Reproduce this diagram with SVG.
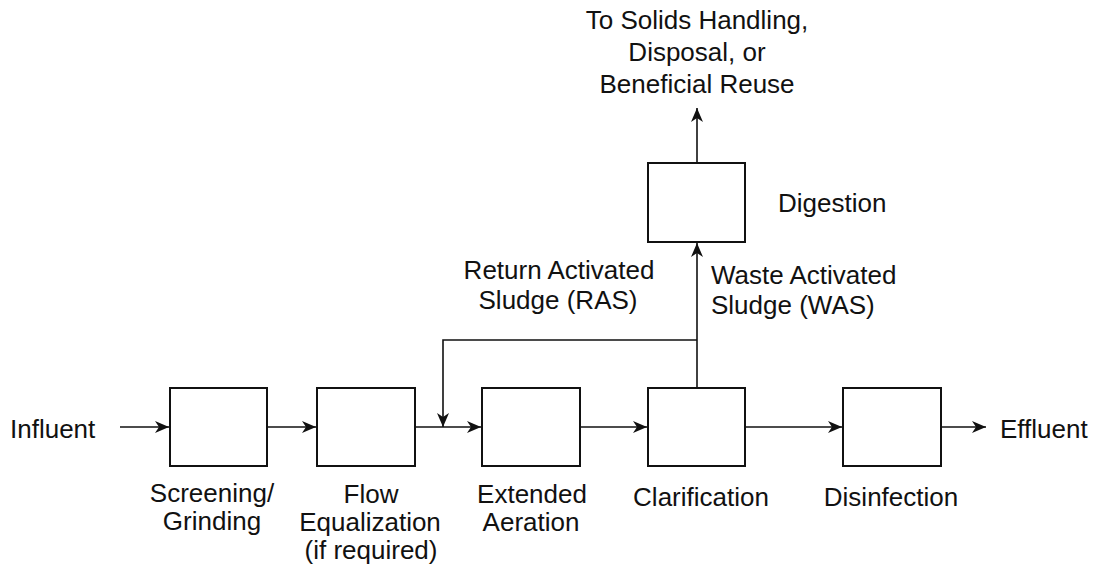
<svg xmlns="http://www.w3.org/2000/svg" width="1095" height="566" viewBox="0 0 1095 566">
<style>
.box{fill:#fff;stroke:#111;stroke-width:2}
.ln{fill:none;stroke:#111;stroke-width:1.6}
.arr{marker-end:url(#ah)}
text{font-family:"Liberation Sans",Arial,sans-serif;font-size:26px;fill:#111}
.c{text-anchor:middle}
</style>
<defs>
<marker id="ah" markerUnits="userSpaceOnUse" markerWidth="15" markerHeight="12" refX="14" refY="6" orient="auto">
<path d="M0,0 L14,6 L0,12 L4,6 Z" fill="#111"/>
</marker>
</defs>
<rect width="1095" height="566" fill="#fff"/>
<g id="connectors">
<path class="ln arr" d="M120,427 H169"/>
<path class="ln arr" d="M267,427 H316"/>
<path class="ln arr" d="M415,427 H481"/>
<path class="ln arr" d="M580,427 H647"/>
<path class="ln arr" d="M745,427 H842"/>
<path class="ln arr" d="M941,427 H986"/>
<path class="ln arr" d="M697,340 H443 V427"/>
<path class="ln arr" d="M697,388 V243"/>
<path class="ln arr" d="M697,163 V108"/>
</g>
<g id="influent"><text x="10" y="438">Influent</text></g>
<g id="screening">
<rect class="box" x="170" y="388" width="97" height="78"/>
<text class="c" x="212" y="502">Screening/</text>
<text class="c" x="212" y="530">Grinding</text>
</g>
<g id="equalization">
<rect class="box" x="317" y="388" width="98" height="78"/>
<text class="c" x="371" y="503">Flow</text>
<text class="c" x="370" y="531">Equalization</text>
<text class="c" x="371" y="559">(if required)</text>
</g>
<g id="aeration">
<rect class="box" x="482" y="388" width="98" height="78"/>
<text class="c" x="532" y="503">Extended</text>
<text class="c" x="531" y="531">Aeration</text>
</g>
<g id="clarification">
<rect class="box" x="648" y="388" width="97" height="78"/>
<text class="c" x="701" y="506">Clarification</text>
</g>
<g id="disinfection">
<rect class="box" x="843" y="388" width="98" height="78"/>
<text class="c" x="891" y="506">Disinfection</text>
</g>
<g id="effluent"><text x="1000" y="438">Effluent</text></g>
<g id="digestion">
<rect class="box" x="648" y="163" width="97" height="79"/>
<text x="778" y="212">Digestion</text>
</g>
<g id="solids">
<text class="c" x="697" y="29">To Solids Handling,</text>
<text class="c" x="697" y="61">Disposal, or</text>
<text class="c" x="697" y="93">Beneficial Reuse</text>
</g>
<g id="ras-label">
<text class="c" x="559" y="279">Return Activated</text>
<text class="c" x="558" y="309">Sludge (RAS)</text>
</g>
<g id="was-label">
<text x="711" y="284">Waste Activated</text>
<text x="711" y="314">Sludge (WAS)</text>
</g>
</svg>
